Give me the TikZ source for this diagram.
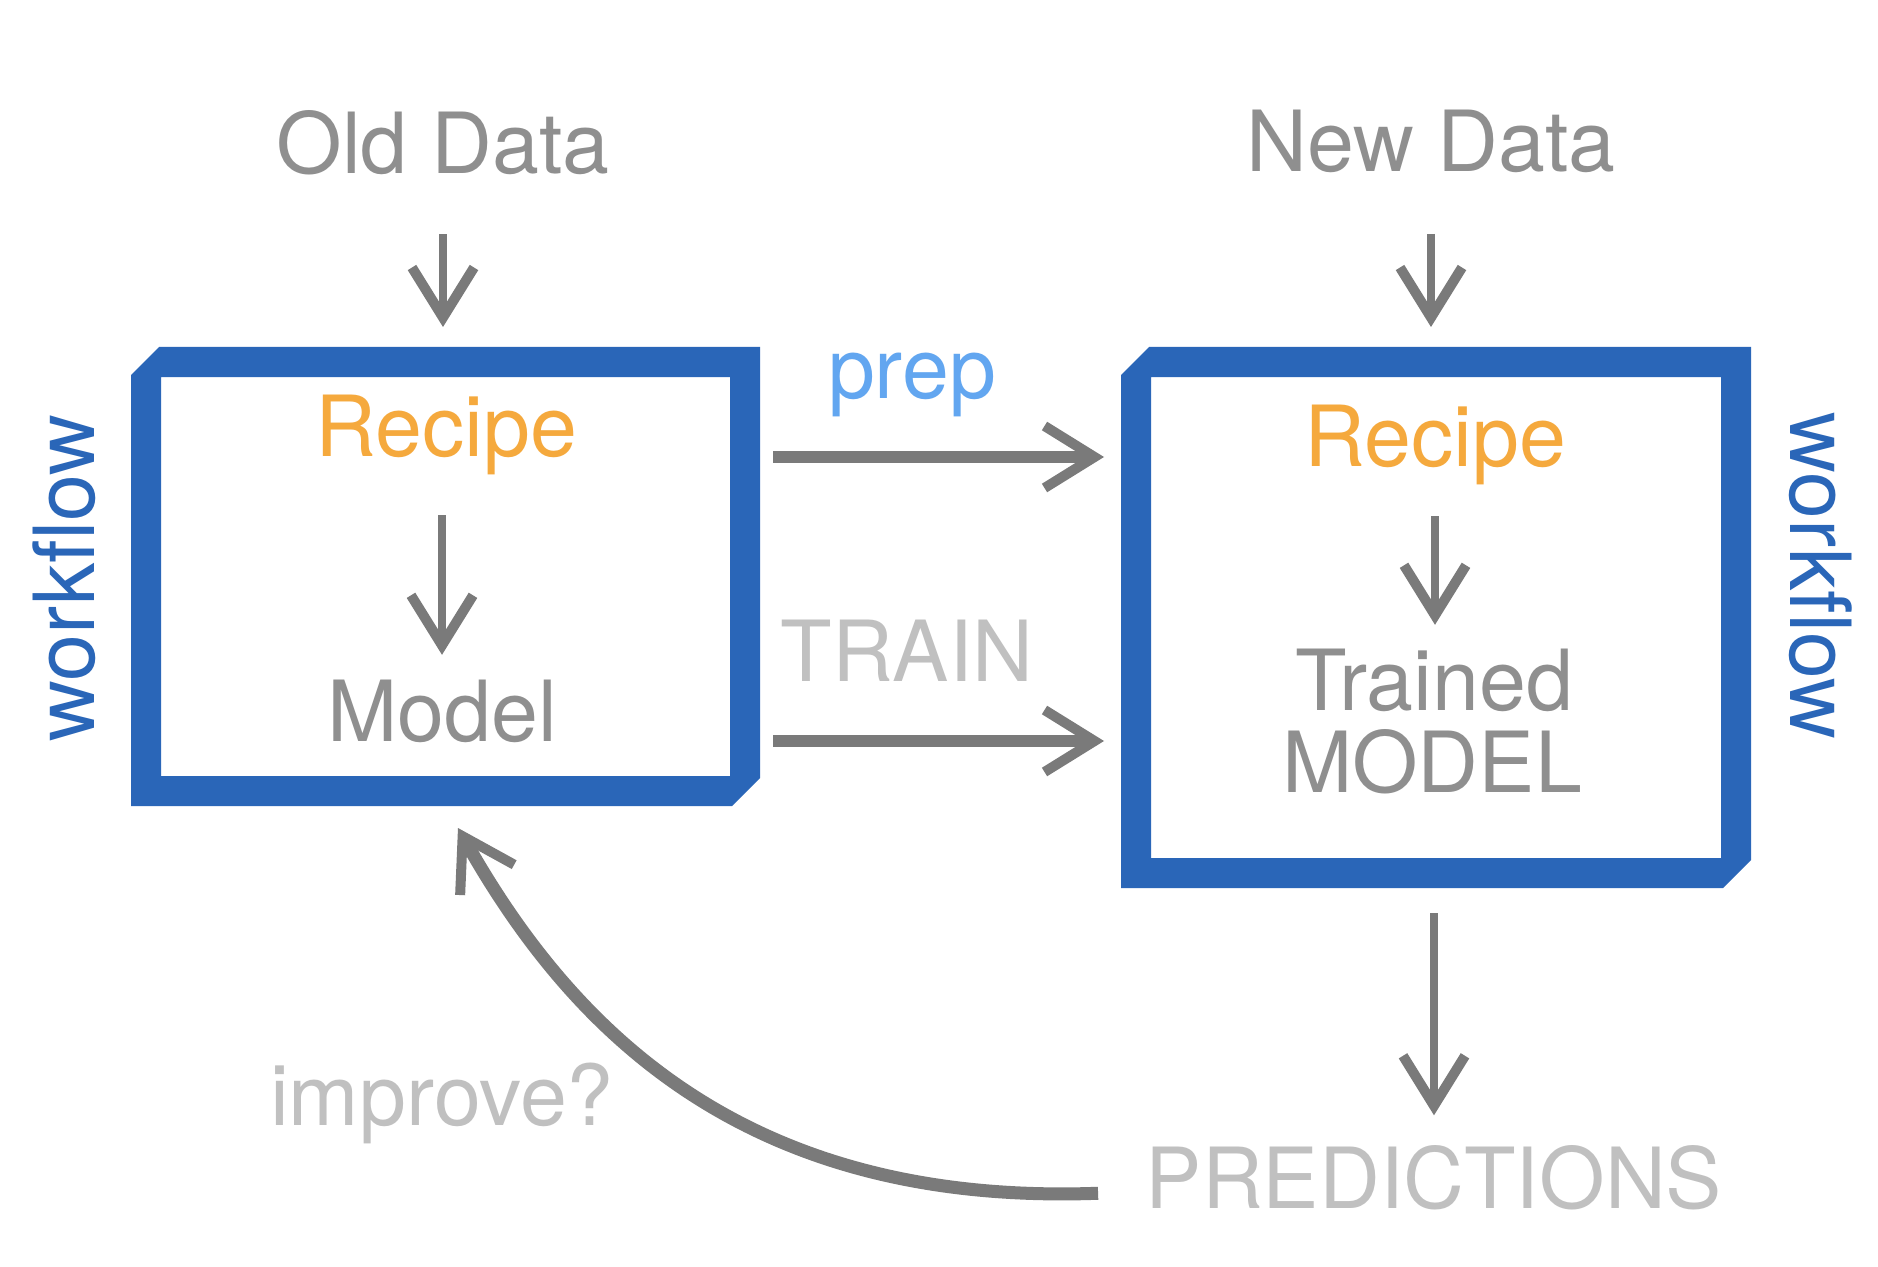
\documentclass[tikz,border=0pt]{standalone}
\usepackage{fontspec}
\setmainfont{TeX Gyre Heros}
\usetikzlibrary{arrows.meta}
\definecolor{frameblue}{RGB}{42,102,184}
\definecolor{arrowgray}{RGB}{122,122,122}
\definecolor{textgray}{RGB}{143,143,143}
\definecolor{palegray}{RGB}{192,192,192}
\definecolor{recipeorange}{RGB}{245,169,61}
\definecolor{prepblue}{RGB}{98,166,240}
\begin{document}
\begin{tikzpicture}[
        lbl/.style={inner sep=0pt,anchor=base,font=\fontsize{24}{28}\selectfont},
        arr/.style={draw=arrowgray,line width=0.12cm,-{Straight Barb[length=0.5cm,width=0.62cm,line width'=0.1cm]}},
        thinarr/.style={arr,line width=0.08cm}]
                \def\ytop{9.19};
                \def\fw{0.30};
                \def\ch{0.28};
                \fill[white] (0,0) rectangle (18.78,12.66);
                \useasboundingbox (0,0) rectangle (18.78,12.66);
                \foreach \n/\xa/\xb/\yb in {1/1.31/7.60/4.60,2/11.21/17.51/3.78}{
                    \fill[frameblue,even odd rule] (\xa,\ytop-\ch) -- (\xa+\ch,\ytop) -- (\xb,\ytop) -- (\xb,\yb+\ch) -- (\xb-\ch,\yb) -- (\xa,\yb) -- cycle (\xa+\fw,\ytop-\fw) rectangle (\xb-\fw,\yb+\fw);
                    \coordinate (frame\n-nw) at (\xa,\ytop);
                    \coordinate (frame\n-se) at (\xb,\yb);}
                \node[lbl,textgray] (olddata) at (4.43,10.93) {Old Data};
                \node[lbl,textgray] (newdata) at (14.31,10.94) {New Data};
                \node[lbl,recipeorange] (recipe1) at (4.46,8.09) {Recipe};
                \node[lbl,textgray] (model1) at (4.42,5.25) {Model};
                \node[lbl,recipeorange] (recipe2) at (14.35,8.00) {Recipe};
                \node[lbl,textgray] (trained) at (14.34,5.56) {Trained};
                \node[lbl,textgray] (trainedmodel) at (14.32,4.74) {MODEL};
                \node[lbl,prepblue] (prep) at (9.12,8.68) {prep};
                \node[lbl,palegray] (train) at (9.07,5.85) {TRAIN};
                \node[lbl,palegray] (predictions) at (14.34,0.58) {PREDICTIONS};
                \node[lbl,palegray] (improve) at (4.42,1.41) {improve?};
                \node[lbl,frameblue,rotate=90] (workflow1) at (0.94,6.88) {workflow};
                \node[lbl,frameblue,rotate=-90] (workflow2) at (17.90,6.90) {workflow};
                \draw[thinarr,shorten <=0.59cm,shorten >=0.2cm] (olddata.south) -- (olddata.south |- frame1-nw);
                \draw[thinarr,shorten <=0.60cm,shorten >=0.2cm] (newdata.south) -- (newdata.south |- frame2-nw);
                \draw[thinarr,shorten <=0.39cm,shorten >=0.24cm] (recipe1.south -| model1.north) -- (model1.north);
                \draw[thinarr,shorten <=0.31cm,shorten >=0.23cm] (recipe2.south) -- (recipe2.south |- trained.north);
                \draw[arr,shorten <=0.13cm,shorten >=0.17cm] (recipe1.base -| frame1-se) -- (recipe1.base -| frame2-nw);
                \draw[arr,shorten <=0.13cm,shorten >=0.17cm] (model1.base -| frame1-se) -- (model1.base -| frame2-nw);
                \draw[thinarr,shorten <=0.25cm,shorten >=0.29cm] (predictions.north |- frame2-se) -- (predictions.north);
                \coordinate (loopend) at (4.58,4.38);
                \draw[arr,line width=0.13cm] ([shift={(-0.47,-0.16)}]predictions.west) .. controls (7.5,0.6) and (5.75,2.3) .. (loopend);
            \end{tikzpicture}
\end{document}
